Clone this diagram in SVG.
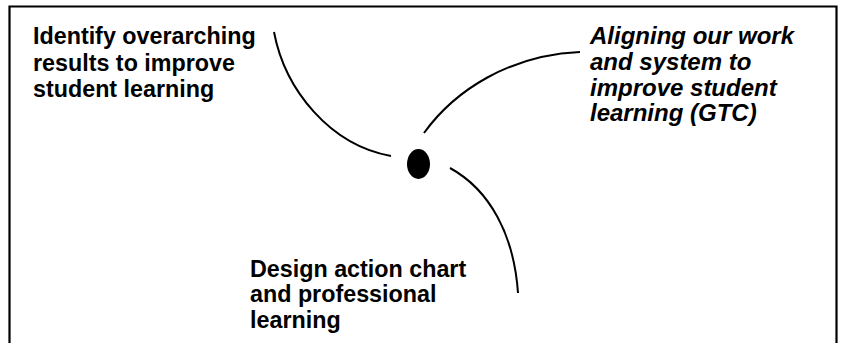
<svg xmlns="http://www.w3.org/2000/svg" width="841" height="343" viewBox="0 0 841 343">
<style>
.t{font-family:"Liberation Sans",Arial,sans-serif;font-weight:bold;font-size:23.3px;fill:#000}
.i{font-style:italic;font-size:24px}
.c{fill:none;stroke:#000;stroke-width:2}
</style>
<rect width="841" height="343" fill="#fff"/>
<path d="M9.5,345 V6.5 H836.5 V345" fill="none" stroke="#000" stroke-width="2.2"/>
<g id="connectors">
<path class="c" d="M274,32 C285,90 330,145 391,156"/>
<path class="c" d="M424,133 C455,90 510,55 580,52"/>
<path class="c" d="M450,168 C490,190 514,235 518,293"/>
</g>
<g id="hub"><ellipse cx="418.5" cy="164" rx="11.5" ry="15" fill="#000"/></g>
<g id="node-identify">
<text class="t" x="33" y="44">Identify overarching</text>
<text class="t" x="33" y="70.5">results to improve</text>
<text class="t" x="33" y="97">student learning</text>
</g>
<g id="node-aligning">
<text class="t i" x="590" y="43.5">Aligning our work</text>
<text class="t i" x="590" y="69.5">and system to</text>
<text class="t i" x="590" y="95.5">improve student</text>
<text class="t i" x="590" y="121">learning (GTC)</text>
</g>
<g id="node-design">
<text class="t" x="250" y="276.5">Design action chart</text>
<text class="t" x="250" y="302">and professional</text>
<text class="t" x="250" y="327.5">learning</text>
</g>
</svg>
